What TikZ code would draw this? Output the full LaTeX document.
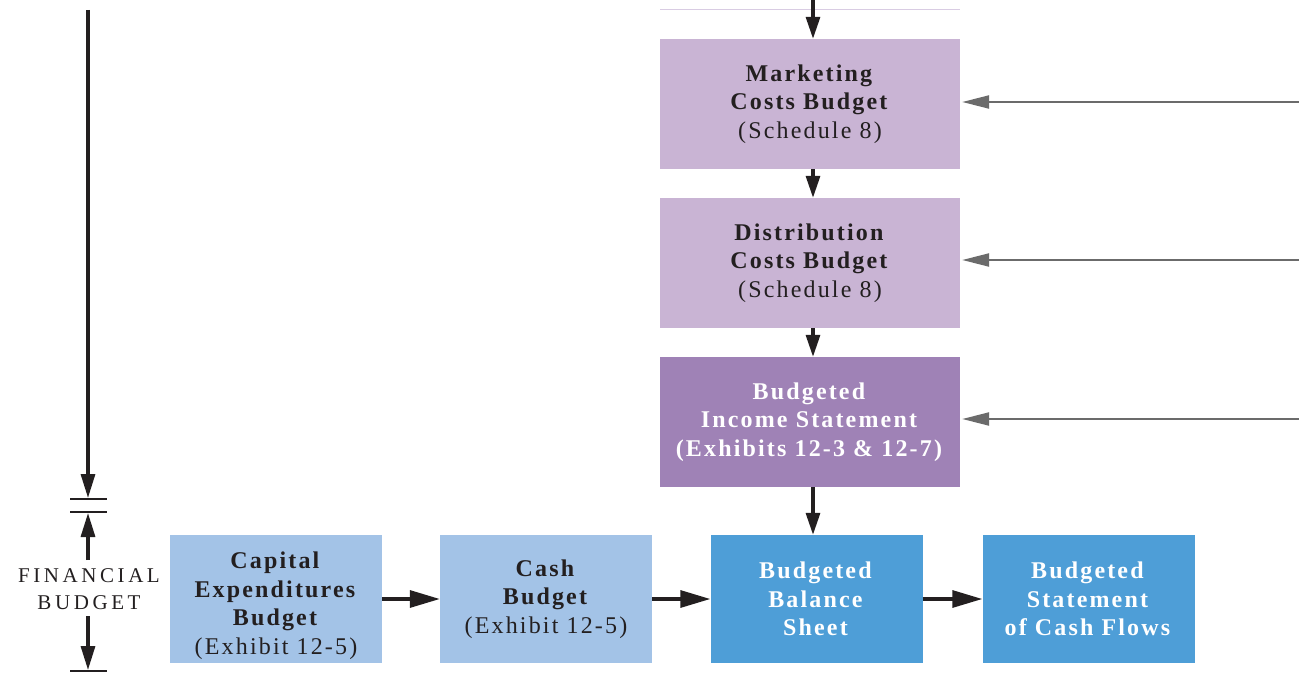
\documentclass[tikz,border=0pt]{standalone}
\usepackage{fontspec}
\setmainfont{Liberation Serif}
\newfontfamily\boxfont[LetterSpace=9]{Liberation Serif}
\newfontfamily\sidefont[LetterSpace=17]{Liberation Serif}
\usetikzlibrary{arrows.meta}
\definecolor{lilac}{HTML}{C9B4D4}
\definecolor{violet}{HTML}{9F82B6}
\definecolor{skylight}{HTML}{A3C3E7}
\definecolor{skydark}{HTML}{4E9ED7}
\definecolor{ink}{HTML}{231F20}
\definecolor{greyline}{HTML}{6B6B6B}
\definecolor{lavline}{HTML}{D9CCE3}
\begin{document}
\begin{tikzpicture}[x=1pt,y=-1pt,
  box/.style={rectangle, inner sep=0pt, align=center, text=ink,
    font=\boxfont\fontsize{24}{28.5}\selectfont},
  tall/.style={box, minimum width=300pt, minimum height=130pt},
  low/.style={box, minimum width=212pt, minimum height=128pt},
  bright/.style={text=white},
  flow/.style={draw=ink, line width=3.2pt, -{Triangle[length=22pt,width=14pt]}},
  hflow/.style={draw=ink, line width=3.2pt, -{Triangle[length=30pt,width=17pt]}},
  side/.style={draw=ink, line width=3.2pt, -{Triangle[length=24pt,width=14pt]}},
  feed/.style={draw=greyline, line width=2.2pt, -{Triangle[length=27pt,width=13pt]}},
  bar/.style={draw=ink, line width=2.4pt},
]
\useasboundingbox (0,0) rectangle (1299,674);

% operating budget column
\node[tall, fill=lilac] (mkt) at (810,104)
  {\textbf{Marketing}\\\textbf{Costs Budget}\\(Schedule 8)};
\node[tall, fill=lilac] (dist) at (810,263)
  {\textbf{Distribution}\\\textbf{Costs Budget}\\(Schedule 8)};
\node[tall, fill=violet, bright] (inc) at (810,422)
  {\textbf{Budgeted}\\\textbf{Income Statement}\\\textbf{(Exhibits 12-3 \& 12-7)}};

% financial budget row
\node[low, fill=skylight] (capex) at (276,599)
  {\rule{0pt}{30pt}\textbf{Capital}\\\textbf{Expenditures}\\\textbf{Budget}\\(Exhibit 12-5)};
\node[low, fill=skylight] (cash) at (546,599)
  {\textbf{Cash}\\\textbf{Budget}\\(Exhibit 12-5)};
\node[low, fill=skydark, bright] (bal) at (816.5,599)
  {\textbf{Budgeted}\\\textbf{Balance}\\\textbf{Sheet}};
\node[low, fill=skydark, bright] (cfs) at (1088.5,599)
  {\textbf{Budgeted}\\\textbf{Statement}\\\textbf{of Cash Flows}};

% edge of the box above
\coordinate (edgeL) at (660,10);
\coordinate (edgeR) at (960,10);
\draw[lavline, line width=1pt] (edgeL) -- (edgeR);

% vertical flow through the column
\coordinate (col) at (813,0);
\draw[flow] (col) -- (col |- mkt.north);
\draw[flow] (col |- mkt.south) -- (col |- dist.north);
\draw[flow] (col |- dist.south) -- (col |- inc.north);
\draw[flow] (col |- inc.south) -- (col |- bal.north);

% inputs from the right
\coordinate (inM) at (1299,102);
\coordinate (inD) at (1299,260);
\coordinate (inI) at (1299,419);
\draw[feed] (inM) -- ([xshift=2pt]mkt.east |- inM);
\draw[feed] (inD) -- ([xshift=2pt]dist.east |- inD);
\draw[feed] (inI) -- ([xshift=2pt]inc.east |- inI);

% horizontal flow along the row
\draw[hflow] (capex.east) -- (cash.west);
\draw[hflow] (cash.east) -- (bal.west);
\draw[hflow] (bal.east) -- (cfs.west);

% left-hand span marker
\node[inner sep=0pt, align=center, text=ink,
  font=\sidefont\fontsize{21}{27}\selectfont] (fin) at (89,589)
  {FINANCIAL\\BUDGET};
\coordinate (spanTop) at (88,10);
\coordinate (barA) at (88,499);
\coordinate (barB) at (88,512);
\coordinate (barC) at (88,671);
\coordinate (upFoot) at (88,560);
\coordinate (downHead) at (88,616);
\draw[side] (spanTop) -- ([yshift=1pt]barA);
\draw[bar] ([xshift=-18pt]barA) -- ([xshift=19pt]barA);
\draw[bar] ([xshift=-18pt]barB) -- ([xshift=19pt]barB);
\draw[side] (upFoot) -- ([yshift=-1pt]barB);
\draw[side] (downHead) -- ([yshift=1pt]barC);
\draw[bar] ([xshift=-18pt]barC) -- ([xshift=19pt]barC);
\end{tikzpicture}
\end{document}
